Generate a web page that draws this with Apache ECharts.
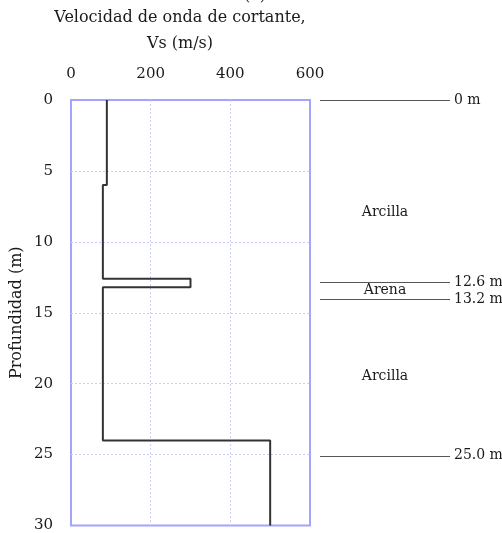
<!DOCTYPE html>
<html><head><meta charset="utf-8">
<script src="https://cdn.jsdelivr.net/npm/echarts@6/dist/echarts.min.js"></script>
<style>html,body{margin:0;padding:0;background:#fff}#c{width:502px;height:533px}</style>
</head><body><div id="c"></div>
<script>
// Soil profile layers: top depth, bottom depth (m), shear wave velocity (m/s)
var layerTop = [0, 6, 12.6, 13.2, 24];
var layerBottom = [6, 12.6, 13.2, 24, 30];
var layerVs = [90, 80, 300, 80, 500];
// Ticks
var xTicks = [0, 200, 400, 600];
var yTicks = [0, 5, 10, 15, 20, 25, 30];
// Right-side stratigraphy annotation
var boundaryLabels = ['0 m', '12.6 m', '13.2 m', '25.0 m'];
var boundaryDrawDepth = [0, 12.8, 14.0, 25.0];
var soilNames = ['Arcilla', 'Arena', 'Arcilla'];
var soilLabelDepth = [7.9, 13.4, 19.4];

var FONT = 'DejaVu Serif';
var pts = [];
for (var i = 0; i < layerVs.length; i++) {
  pts.push([layerVs[i], layerTop[i]]);
  pts.push([layerVs[i], layerBottom[i]]);
}
var chart = echarts.init(document.getElementById('c'), null, {renderer: 'canvas'});
chart.setOption({
  animation: false,
  backgroundColor: '#fff',
  graphic: [
    {type: 'text', x: 255, y: -12, style: {text: '(a)', font: '16px "' + FONT + '"', fill: '#1a1a1a', textAlign: 'center'}},
    {type: 'text', x: 180, y: 10, style: {text: 'Velocidad de onda de cortante,', font: '16px "' + FONT + '"', fill: '#1a1a1a', textAlign: 'center'}},
    {type: 'text', x: 180, y: 36, style: {text: 'Vs (m/s)', font: '16px "' + FONT + '"', fill: '#1a1a1a', textAlign: 'center'}}
  ],
  grid: [
    {left: 71, right: 192, top: 100, bottom: 6, show: true, borderColor: '#a4a4ff', borderWidth: 2, backgroundColor: 'transparent'},
    {left: 320, width: 130, top: 100, bottom: 6, show: false}
  ],
  xAxis: [
    {gridIndex: 0, type: 'value', position: 'top', min: 0, max: 600, interval: 200,
     axisLine: {show: false}, axisTick: {show: false},
     axisLabel: {color: '#1a1a1a', fontFamily: FONT, fontSize: 15, margin: 18},
     splitLine: {show: true, showMinLine: false, showMaxLine: false, lineStyle: {color: '#ccccff', type: [2, 2], width: 1}}},
    {gridIndex: 1, type: 'value', min: 0, max: 1, show: false}
  ],
  yAxis: [
    {gridIndex: 0, type: 'value', inverse: true, min: 0, max: 30, interval: 5,
     name: 'Profundidad (m)', nameLocation: 'middle', nameGap: 46, nameRotate: 90,
     nameTextStyle: {color: '#1a1a1a', fontFamily: FONT, fontSize: 16},
     axisLine: {show: false}, axisTick: {show: false},
     axisLabel: {color: '#1a1a1a', fontFamily: FONT, fontSize: 15, margin: 18},
     splitLine: {show: true, showMinLine: false, showMaxLine: false, lineStyle: {color: '#ccccff', type: [2, 2], width: 1}}},
    {gridIndex: 1, type: 'value', inverse: true, min: 0, max: 30, show: false}
  ],
  series: [
    {type: 'line', xAxisIndex: 0, yAxisIndex: 0, data: pts, symbol: 'none',
     lineStyle: {color: '#333', width: 2}},
    {type: 'scatter', xAxisIndex: 1, yAxisIndex: 1, symbolSize: 0,
     itemStyle: {opacity: 1},
     data: soilNames.map(function (n, i) { return {value: [0.5, soilLabelDepth[i]], name: n}; }),
     label: {show: true, position: 'inside', formatter: '{b}', color: '#1a1a1a', fontFamily: FONT, fontSize: 14},
     markLine: {
       silent: true, symbol: 'none',
       lineStyle: {color: '#555', width: 1, type: 'solid', opacity: 1},
       label: {show: true, position: 'end', distance: 4, color: '#1a1a1a', fontFamily: FONT, fontSize: 14,
               formatter: function (p) { return p.name; }},
       data: boundaryLabels.map(function (l, i) { return {yAxis: boundaryDrawDepth[i], name: l}; })
     }}
  ]
});
</script></body></html>
